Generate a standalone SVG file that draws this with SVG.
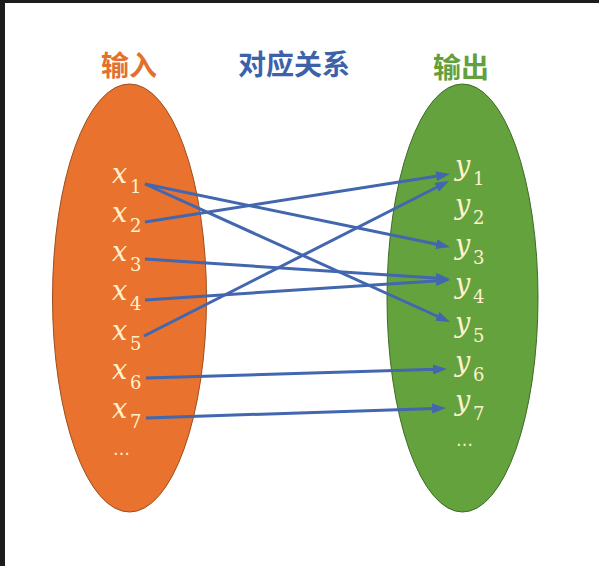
<svg xmlns="http://www.w3.org/2000/svg" width="599" height="566" viewBox="0 0 599 566">
<style>
.title{font-family:"Noto Sans CJK SC","Noto Sans CJK JP",sans-serif;font-weight:bold;font-size:28px;text-anchor:middle}
.v{font-family:"DejaVu Serif","Liberation Serif",serif;font-style:italic;font-size:27px;fill:#FFF2CC}
.s{font-family:"DejaVu Serif","Liberation Serif",serif;font-size:18px;fill:#FFF2CC}
.dots{font-family:"DejaVu Sans",sans-serif;font-size:17px;fill:#FFF2CC}
.conn line{stroke:#4267AE;stroke-width:3;marker-end:url(#ah)}
</style>
<defs>
<marker id="ah" viewBox="0 0 14 10" markerWidth="14" markerHeight="10" refX="3" refY="5" orient="auto" markerUnits="userSpaceOnUse">
<path d="M0,0 L14,5 L0,10 z" fill="#4267AE"/>
</marker>
</defs>
<rect width="599" height="566" fill="#ffffff"/>
<rect x="0" y="0" width="599" height="3" fill="#1c1c1c"/>
<rect x="0" y="0" width="5" height="566" fill="#1c1c1c"/>

<g id="title-input"><text class="title" x="129" y="76" fill="#E2702E">输入</text></g>
<g id="title-mapping"><text class="title" x="294" y="75" fill="#3D62AA">对应关系</text></g>
<g id="title-output"><text class="title" x="461" y="78" fill="#62A03C">输出</text></g>

<g id="input-set">
<ellipse cx="129.5" cy="298" rx="77" ry="214" fill="#E8722E" stroke="#9E4E1E" stroke-width="1"/>
<text class="v" x="112" y="183">x</text><text class="s" x="130" y="193">1</text>
<text class="v" x="112" y="222">x</text><text class="s" x="130" y="232">2</text>
<text class="v" x="112" y="261">x</text><text class="s" x="130" y="271">3</text>
<text class="v" x="112" y="300">x</text><text class="s" x="130" y="310">4</text>
<text class="v" x="112" y="340">x</text><text class="s" x="130" y="350">5</text>
<text class="v" x="112" y="379">x</text><text class="s" x="130" y="389">6</text>
<text class="v" x="112" y="418">x</text><text class="s" x="130" y="428">7</text>
<text class="dots" x="113" y="455">…</text>
</g>

<g id="output-set">
<ellipse cx="462.5" cy="298" rx="75.5" ry="214" fill="#64A23E" stroke="#3F6A27" stroke-width="1"/>
<text class="v" x="455" y="175">y</text><text class="s" x="473" y="185">1</text>
<text class="v" x="455" y="214">y</text><text class="s" x="473" y="224">2</text>
<text class="v" x="455" y="254">y</text><text class="s" x="473" y="264">3</text>
<text class="v" x="455" y="293">y</text><text class="s" x="473" y="303">4</text>
<text class="v" x="455" y="332">y</text><text class="s" x="473" y="342">5</text>
<text class="v" x="455" y="371">y</text><text class="s" x="473" y="381">6</text>
<text class="v" x="455" y="410">y</text><text class="s" x="473" y="420">7</text>
<text class="dots" x="456" y="446">…</text>
</g>

<g id="connectors" class="conn">
<line x1="145" y1="184" x2="439.2" y2="244.8"/>
<line x1="145" y1="184" x2="440" y2="317.5"/>
<line x1="145" y1="222" x2="439.1" y2="175.7"/>
<line x1="145" y1="259" x2="439" y2="278.3"/>
<line x1="145" y1="300" x2="439" y2="280.7"/>
<line x1="144" y1="336" x2="439.2" y2="186"/>
<line x1="146" y1="378" x2="436" y2="369.3"/>
<line x1="146" y1="418" x2="435" y2="408.4"/>
</g>
</svg>
